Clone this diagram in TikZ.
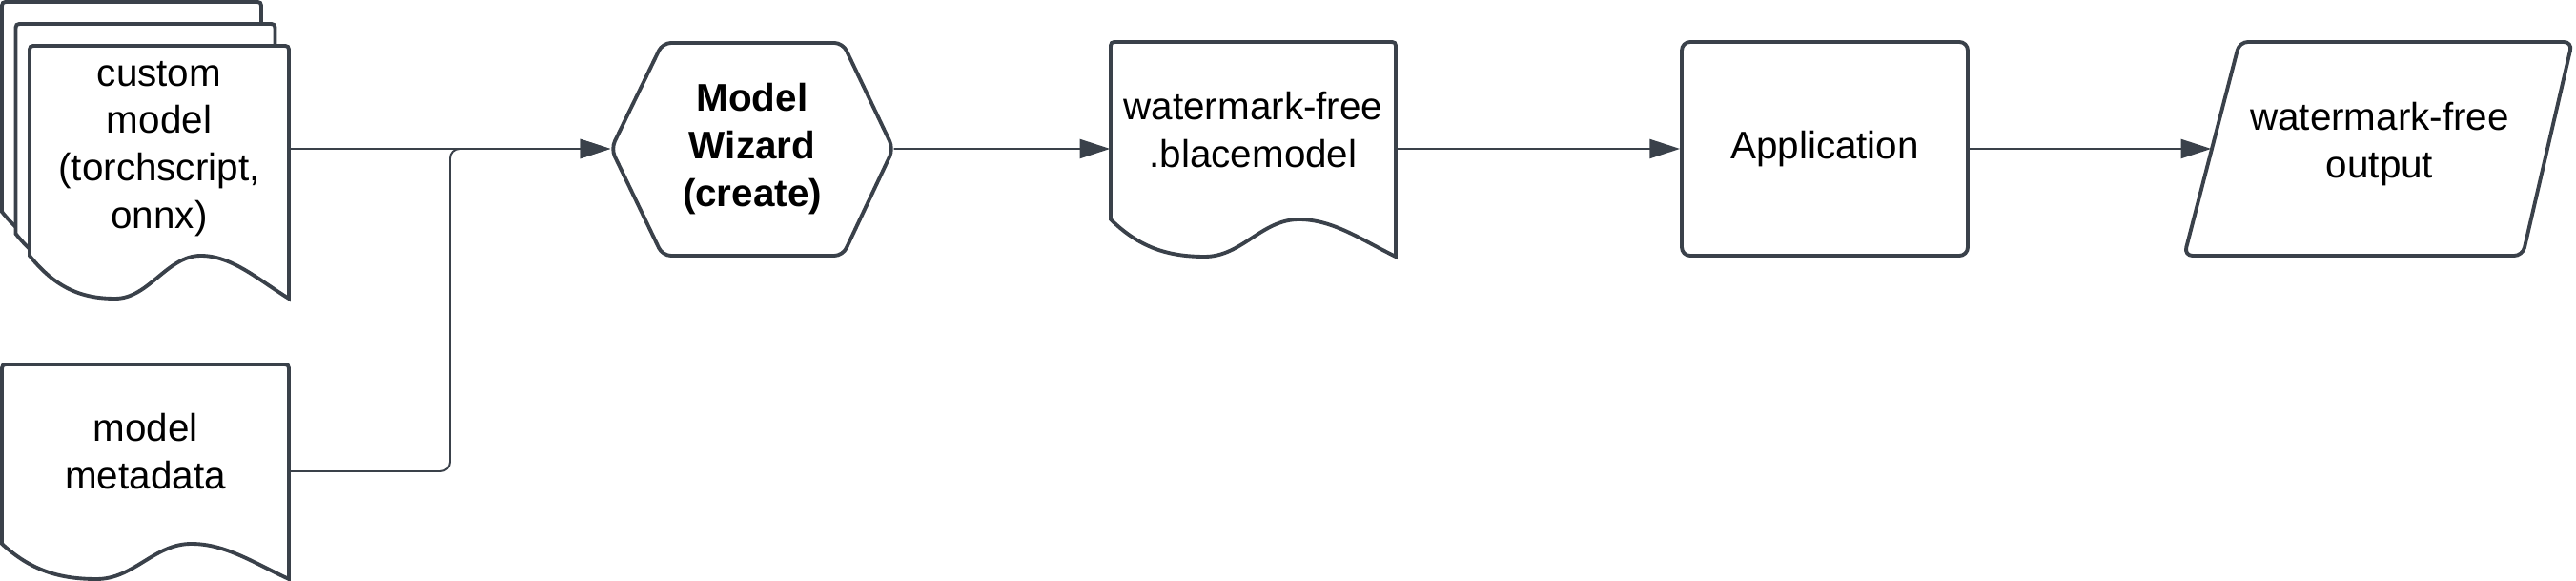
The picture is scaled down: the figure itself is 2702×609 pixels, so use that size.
\documentclass[tikz,border=0pt]{standalone}
\usepackage{xcolor}
\usepackage{fontspec}
\setmainfont{Liberation Sans}
\usepackage{tikz}
\usetikzlibrary{arrows.meta}

\definecolor{lucid}{HTML}{3A414A}

% document shape: left, top, right, wave start, wave depth
\newcommand{\wavedoc}[5]{%
  \draw[docline] ({#3},{(#4)+(#5)}) -- ({#3},{(#2)+8}) .. controls ({#3},{#2}) .. ({(#3)-8},{#2})
    -- ({(#1)+8},{#2}) .. controls ({#1},{#2}) .. ({#1},{(#2)+8}) -- ({#1},{#4})
    .. controls ({(#1)+0.1*((#3)-(#1))},{(#4)+0.75*(#5)}) and ({(#1)+0.2*((#3)-(#1))},{(#4)+(#5)}) .. ({(#1)+0.33*((#3)-(#1))},{(#4)+(#5)})
    .. controls ({(#1)+0.46*((#3)-(#1))},{(#4)+(#5)}) and ({(#1)+0.53*((#3)-(#1))},{#4}) .. ({(#1)+0.66*((#3)-(#1))},{#4})
    .. controls ({(#1)+0.78*((#3)-(#1))},{#4}) and ({(#1)+0.88*((#3)-(#1))},{(#4)+0.55*(#5)}) .. cycle;}

\tikzset{
  docline/.style={draw=lucid, line width=1.1pt, fill=white},
  shapeline/.style={docline, rounded corners=2.5pt},
  txt/.style={align=center, inner sep=0pt, font=\fontsize{11.5pt}{14.2pt}\selectfont},
  box/.style={txt, shapeline},
  conn/.style={draw=lucid, line width=0.55pt, -{Triangle[length=9pt,width=5.7pt]}}
}

\begin{document}
\begin{tikzpicture}[x=0.1mm, y=-0.1mm]
  \useasboundingbox (0,0) rectangle (2702,609);

  % stacked model files
  \foreach \i in {2,1,0}
    \wavedoc{31-14.5*\i}{48-23*\i}{303-14.5*\i}{268-23*\i}{45};
  \node[txt, minimum width=27.2mm] (custom) at (167,156) {custom\\model\\(torchscript,\\onnx)};

  % metadata file
  \wavedoc{2}{382}{303}{570}{37}
  \node[txt, minimum width=30.1mm] (meta) at (152.5,473) {model\\metadata};

  % wizard
  \draw[shapeline] (641,156) -- (695,45) -- (884,45) -- (937,156) -- (884,268) -- (695,268) -- cycle;
  \node[txt, font=\fontsize{11.5pt}{14.2pt}\selectfont\bfseries, minimum width=29.6mm] (wizard) at (789,156) {Model\\Wizard\\(create)};

  % output model file
  \wavedoc{1165}{44}{1464}{230}{39}
  \node[txt, minimum width=29.9mm] (blace) at (1314.5,136) {watermark-free\\.blacemodel};

  \node[box, minimum width=30mm, minimum height=22.4mm] (app) at (1914,156) {Application};

  % result
  \draw[shapeline] (2291,268) -- (2349,44) -- (2698,44) -- (2646,268) -- cycle;
  \node[txt, minimum width=35.2mm] (out) at (2496,151) {watermark-free\\output};

  \coordinate (bend) at (472,156);

  \draw[conn] (custom.east) -- (wizard.west);
  \draw[conn, rounded corners=2.8pt] ([yshift=-2.1mm]meta.east) -| (bend) -- (wizard.west);
  \draw[conn] (wizard.east) -- ([yshift=-2mm]blace.west);
  \draw[conn] ([yshift=-2mm]blace.east) -- (app.west);
  \draw[conn] (app.east) -- ([yshift=-0.5mm]out.west);
\end{tikzpicture}
\end{document}
